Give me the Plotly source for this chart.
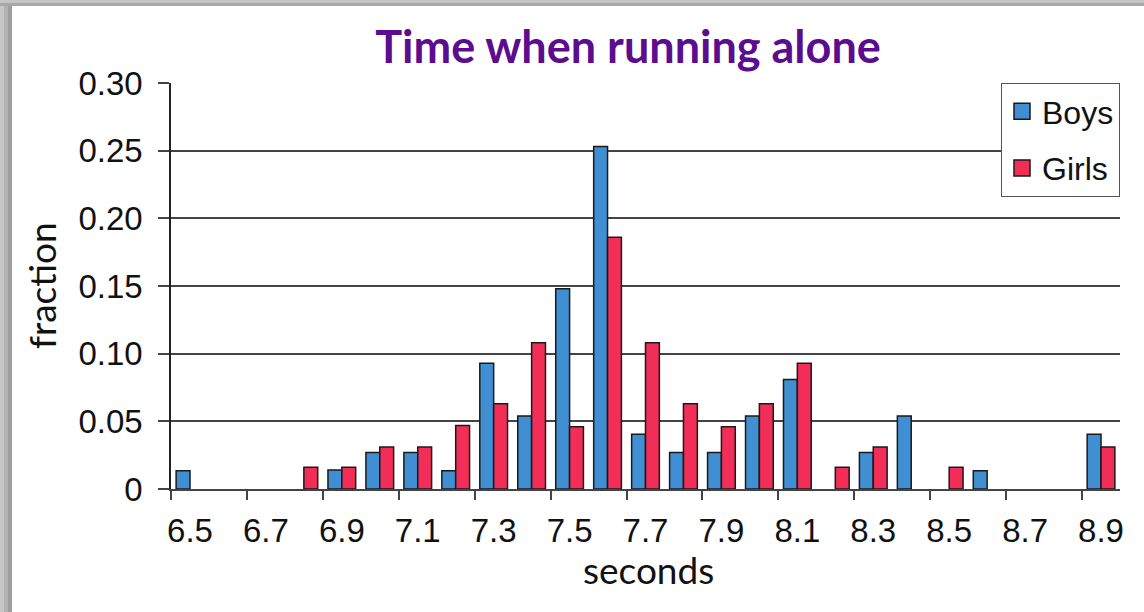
import plotly.graph_objects as go

seconds = [6.5, 6.6, 6.7, 6.8, 6.9, 7.0, 7.1, 7.2, 7.3, 7.4, 7.5, 7.6, 7.7,
           7.8, 7.9, 8.0, 8.1, 8.2, 8.3, 8.4, 8.5, 8.6, 8.7, 8.8, 8.9]
boys = [0.0135, None, None, None, 0.014, 0.027, 0.027, 0.0135, 0.093, 0.054, 0.148, 0.253, 0.0405,
        0.027, 0.027, 0.054, 0.081, None, 0.027, 0.054, None, 0.0135, None, None, 0.0405]
girls = [None, None, None, 0.016, 0.016, 0.031, 0.031, 0.047, 0.063, 0.108, 0.046, 0.186, 0.108,
         0.063, 0.046, 0.063, 0.093, 0.016, 0.031, None, 0.016, None, None, None, 0.031]
x_tick_vals = [6.5, 6.7, 6.9, 7.1, 7.3, 7.5, 7.7, 7.9, 8.1, 8.3, 8.5, 8.7, 8.9]
x_tick_text = ["6.5", "6.7", "6.9", "7.1", "7.3", "7.5", "7.7", "7.9", "8.1", "8.3", "8.5", "8.7", "8.9"]
x_bound_vals = [6.45, 6.65, 6.85, 7.05, 7.25, 7.45, 7.65, 7.85, 8.05, 8.25, 8.45, 8.65, 8.85]
y_tick_vals = [0, 0.05, 0.10, 0.15, 0.20, 0.25, 0.30]
y_tick_text = ["0", "0.05", "0.10", "0.15", "0.20", "0.25", "0.30"]

BLUE = "#3f8fd2"
RED = "#f22e58"
EDGE = "#1a1a1a"

W, H = 1144, 612
L, R, T, B = 171, 24, 83, 123
pw, ph = W - L - R, H - T - B


def px_x(p):
    return (p - L) / pw


def px_y(p):
    return (H - B - p) / ph


fig = go.Figure()
fig.add_trace(go.Bar(x=seconds, y=boys, name="Boys", showlegend=False,
                     marker=dict(color=BLUE, line=dict(color=EDGE, width=1.5))))
fig.add_trace(go.Bar(x=seconds, y=girls, name="Girls", showlegend=False,
                     marker=dict(color=RED, line=dict(color=EDGE, width=1.5))))
# legend-only entries with larger square swatches
fig.add_trace(go.Scatter(x=[None], y=[None], mode="markers", name="Boys", legendgroup="b",
                         marker=dict(symbol="square", size=16, color=BLUE, line=dict(color=EDGE, width=1.5))))
fig.add_trace(go.Scatter(x=[None], y=[None], mode="markers", name="Girls", legendgroup="g",
                         marker=dict(symbol="square", size=16, color=RED, line=dict(color=EDGE, width=1.5))))

fig.update_layout(
    width=W, height=H,
    margin=dict(l=L, r=R, t=T, b=B),
    paper_bgcolor="white", plot_bgcolor="white",
    barmode="group", bargap=0.27, bargroupgap=0,
    title=dict(text="<b>Time when running alone</b>", x=0.549, xanchor="center",
               y=1 - 47 / H, yanchor="middle", xref="container", yref="container",
               font=dict(family="Lato", size=45, color="#5b0c8f")),
    legend=dict(x=1, y=1, xanchor="right", yanchor="top", bgcolor="white",
                bordercolor="#555555", borderwidth=1,
                font=dict(family="Liberation Sans", size=32, color="#111111"),
                itemwidth=30, tracegroupgap=12),
    showlegend=True,
    font=dict(family="Liberation Sans", color="#111111"),
)
fig.update_xaxes(range=[6.45, 8.95], tickmode="array", tickvals=x_tick_vals, ticktext=x_tick_text,
                 ticks="", showgrid=False, zeroline=False, showline=True, linecolor="#444444", linewidth=1.5,
                 tickfont=dict(family="Liberation Sans", size=33, color="#111111"),
                 ticklabelstandoff=12,
                 minor=dict(tickmode="array", tickvals=x_bound_vals, ticks="outside", ticklen=9,
                            tickcolor="#444444", tickwidth=1.5, showgrid=False))
fig.update_yaxes(range=[0, 0.30], tickmode="array", tickvals=y_tick_vals, ticktext=y_tick_text,
                 ticks="outside", ticklen=11, tickcolor="#444444", tickwidth=1.5,
                 showgrid=True, gridcolor="#444444", gridwidth=1.5, zeroline=False,
                 showline=True, linecolor="#222222", linewidth=1.5,
                 tickfont=dict(family="Liberation Sans", size=33, color="#111111"),
                 ticklabelstandoff=9)

fig.add_annotation(text="seconds", xref="paper", yref="paper", x=px_x(648), y=px_y(569),
                   xanchor="center", yanchor="middle", showarrow=False,
                   font=dict(family="Lato", size=37, color="#111111"))
fig.add_annotation(text="fraction", xref="paper", yref="paper", x=px_x(41), y=px_y(286),
                   xanchor="center", yanchor="middle", showarrow=False, textangle=-90,
                   font=dict(family="Lato", size=37, color="#111111"))

# slide frame (gray edges with a soft gradient)
for (a, b, c) in [(0, 4, "#c6c6c6"), (4, 8, "#b2b2b2"), (8, 12, "#9e9e9e")]:
    fig.add_shape(type="rect", xref="paper", yref="paper", x0=px_x(a), x1=px_x(b), y0=px_y(H), y1=px_y(0),
                  fillcolor=c, line=dict(width=0), layer="above")
for (a, b, c) in [(0, 3, "#c6c6c6"), (3, 6, "#a8a8a8")]:
    fig.add_shape(type="rect", xref="paper", yref="paper", x0=px_x(0), x1=px_x(W), y0=px_y(b), y1=px_y(a),
                  fillcolor=c, line=dict(width=0), layer="above")

fig.write_html("out.html", config={"displayModeBar": False},
               post_script="document.body.style.margin='0';document.body.style.overflow='hidden';")
